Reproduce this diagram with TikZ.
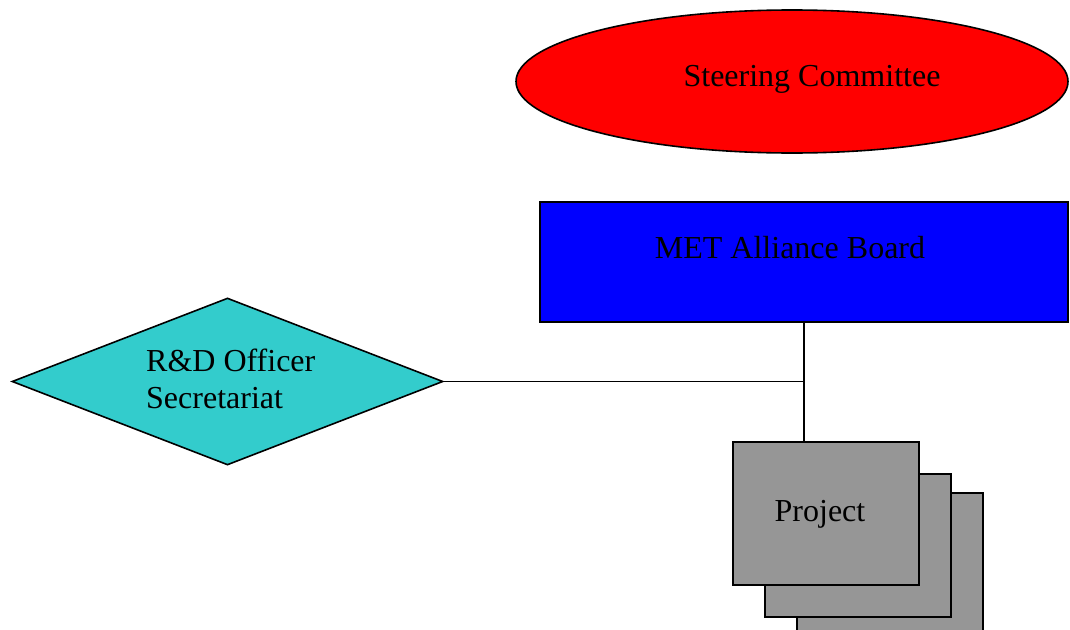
\documentclass[tikz,border=0pt]{standalone}
\usepackage{fontspec}
\setmainfont{Liberation Serif}
\usetikzlibrary{shapes.geometric}
\definecolor{steer}{HTML}{FF0000}
\definecolor{board}{HTML}{0000FF}
\definecolor{officer}{HTML}{33CCCC}
\definecolor{proj}{HTML}{969696}
\tikzset{
  shapeline/.style={draw=black, line width=1.6pt},
  lbl/.style={font=\fontsize{32}{37}\selectfont, text=black, inner sep=0pt},
  projbox/.style={shapeline, fill=proj, minimum width=186pt, minimum height=143pt, inner sep=0pt, anchor=north west},
  conn/.style={draw=black, line width=1.6pt},
}
\begin{document}
\begin{tikzpicture}[x=1pt,y=-1pt]
\useasboundingbox (0,0) rectangle (1070,629);
\clip (0,0) rectangle (1070,629);
% Steering Committee
\node[ellipse, shapeline, fill=steer, minimum width=552pt, minimum height=143pt, inner sep=0pt] (steer) at (792,81.5) {};
\node[lbl] (steert) at (812,79) {Steering Committee};
% MET Alliance Board
\node[rectangle, shapeline, fill=board, minimum width=528pt, minimum height=120pt, inner sep=0pt] (board) at (804,262) {};
\node[lbl] (boardt) at (790,248) {MET Alliance Board};
% R&D Officer Secretariat
\node[diamond, shapeline, fill=officer, minimum width=431pt, minimum height=167pt, inner sep=0pt, aspect=2.58] (off) at (227.5,381.5) {};
\node[lbl, align=left, anchor=west] (offt) at (146,378.5) {R\&D Officer\\Secretariat};
% Projects (stacked)
\node[projbox] (p3) at (796,492) {};
\node[projbox] (p2) at (764,473) {};
\node[projbox] (p1) at (732,441) {};
\node[lbl] (p1t) at (820,514) {Project};
% connectors
\coordinate (j) at (804,381.5);
\draw[conn] (board.south) -- (j);
\draw[conn] (j) -- (p1.north -| j);
\draw[conn] (off.east) -- (j);
\end{tikzpicture}
\end{document}
